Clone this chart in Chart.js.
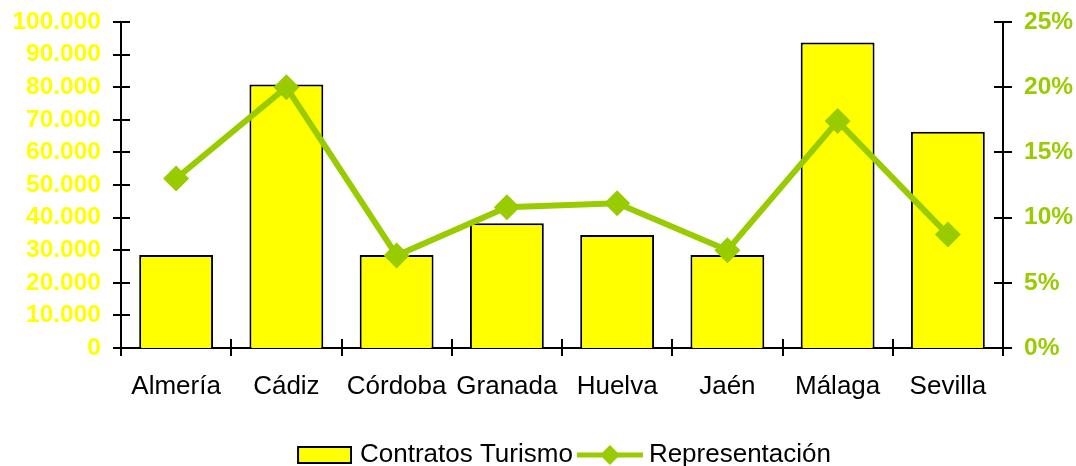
<!DOCTYPE html>
<html>
<head>
<meta charset="utf-8">
<script src="https://cdn.jsdelivr.net/npm/chart.js@4/dist/chart.umd.min.js"></script>
<style>
  html, body { margin: 0; padding: 0; background: #fff; }
  #wrap { width: 1076px; height: 466px; }
</style>
</head>
<body>
<div id="wrap"><canvas id="chart" width="1076" height="466"></canvas></div>
<script>
const provincias = ["Almería", "Cádiz", "Córdoba", "Granada", "Huelva", "Jaén", "Málaga", "Sevilla"];
const contratos = [28500, 80800, 28500, 38300, 34700, 28500, 93700, 66300];
const representacion = [13.0, 20.0, 7.1, 10.8, 11.1, 7.5, 17.4, 8.7];
const leftTicks = [0, 10000, 20000, 30000, 40000, 50000, 60000, 70000, 80000, 90000, 100000];
const rightTicks = [0, 5, 10, 15, 20, 25];

const FONT = "'Liberation Sans', Arial, sans-serif";
const GREEN = "#99cc00";

function miles(v) {
  return String(v).replace(/\B(?=(\d{3})+(?!\d))/g, ".");
}

// legend icons (drawn off-centre in their canvas so the gaps match)
function barIcon() {
  const c = document.createElement("canvas");
  c.width = 66; c.height = 18;
  const g = c.getContext("2d");
  g.fillStyle = "#ffff00";
  g.fillRect(12, 1, 53, 16);
  g.strokeStyle = "#000"; g.lineWidth = 2;
  g.strokeRect(12, 1, 53, 16);
  return c;
}
function lineIcon() {
  const c = document.createElement("canvas");
  c.width = 72; c.height = 22;
  const g = c.getContext("2d");
  g.strokeStyle = GREEN; g.lineWidth = 5;
  g.beginPath(); g.moveTo(5, 11); g.lineTo(71, 11); g.stroke();
  g.fillStyle = GREEN;
  g.beginPath(); g.moveTo(38, 1); g.lineTo(48, 11); g.lineTo(38, 21); g.lineTo(28, 11); g.closePath(); g.fill();
  return c;
}

// tick marks crossing the axis lines
const crossTicks = {
  id: "crossTicks",
  afterLayout(chart) {
    // nudge legend to the right, the icons hang out of their boxes
    chart.legend.left += 23;
    chart.legend.right += 23;
  },
  afterDraw(chart) {
    const ctx = chart.ctx;
    const x = chart.scales.x, y = chart.scales.y, y1 = chart.scales.y1;
    ctx.save();
    ctx.strokeStyle = "#000";
    ctx.lineWidth = 2;
    ctx.beginPath();
    y.ticks.forEach(t => {
      const p = Math.round(y.getPixelForValue(t.value));
      ctx.moveTo(y.right - 8, p); ctx.lineTo(y.right + 9, p);
    });
    y1.ticks.forEach(t => {
      const p = Math.round(y1.getPixelForValue(t.value));
      ctx.moveTo(y1.left - 9, p); ctx.lineTo(y1.left + 9, p);
    });
    for (let i = 0; i <= provincias.length; i++) {
      const p = Math.round(x.getPixelForValue(i - 0.5));
      ctx.moveTo(p, x.top - 9); ctx.lineTo(p, x.top + 8);
    }
    ctx.stroke();
    ctx.restore();
  }
};

function noPad(s) {
  s.paddingTop = 0;
  s.paddingBottom = 0;
}

new Chart(document.getElementById("chart"), {
  data: {
    labels: provincias,
    datasets: [
      {
        type: "bar",
        label: "Contratos Turismo",
        data: contratos,
        yAxisID: "y",
        backgroundColor: "#ffff00",
        borderColor: "#000",
        borderWidth: 2,
        barPercentage: 0.67,
        categoryPercentage: 1,
        order: 1
      },
      {
        type: "line",
        label: "Representación",
        data: representacion,
        yAxisID: "y1",
        borderColor: GREEN,
        backgroundColor: GREEN,
        borderWidth: 6,
        pointStyle: "rectRot",
        pointRadius: 13,
        pointHoverRadius: 13,
        pointBorderWidth: 0,
        tension: 0,
        order: 0
      }
    ]
  },
  options: {
    responsive: false,
    animation: false,
    layout: { padding: { top: 22, right: 0, left: 0, bottom: -12 } },
    plugins: {
      tooltip: { enabled: false },
      legend: {
        position: "bottom",
        labels: {
          usePointStyle: true,
          pointStyleWidth: 56,
          font: { family: FONT, size: 26 },
          color: "#000",
          padding: 7,
          generateLabels(chart) {
            return [
              { text: "Contratos Turismo", pointStyle: barIcon(), datasetIndex: 0, lineWidth: 0, fontColor: "#000" },
              { text: "Representación", pointStyle: lineIcon(), datasetIndex: 1, lineWidth: 0, fontColor: "#000" }
            ];
          }
        }
      }
    },
    scales: {
      x: {
        grid: { display: false, drawTicks: false },
        border: { color: "#000", width: 2 },
        ticks: { font: { family: FONT, size: 26 }, color: "#000", padding: 23, maxRotation: 0, autoSkip: false },
        afterFit(s) { s.height = 87; }
      },
      y: {
        position: "left",
        min: 0, max: 100000,
        afterBuildTicks(s) { s.ticks = leftTicks.map(v => ({ value: v })); },
        grid: { display: false, drawTicks: false },
        border: { color: "#000", width: 2 },
        ticks: {
          font: { family: FONT, size: 24.5, weight: "bold" },
          color: "#ffff00",
          padding: 20,
          autoSkip: false,
          callback: v => miles(v)
        },
        afterFit(s) { s.width = 121; noPad(s); }
      },
      y1: {
        position: "right",
        min: 0, max: 25,
        afterBuildTicks(s) { s.ticks = rightTicks.map(v => ({ value: v })); },
        grid: { display: false, drawTicks: false },
        border: { color: "#000", width: 2 },
        ticks: {
          font: { family: FONT, size: 24.5, weight: "bold" },
          color: GREEN,
          padding: 21,
          autoSkip: false,
          callback: v => v + "%"
        },
        afterFit(s) { s.width = 73; noPad(s); }
      }
    }
  },
  plugins: [crossTicks]
});
</script>
</body>
</html>
